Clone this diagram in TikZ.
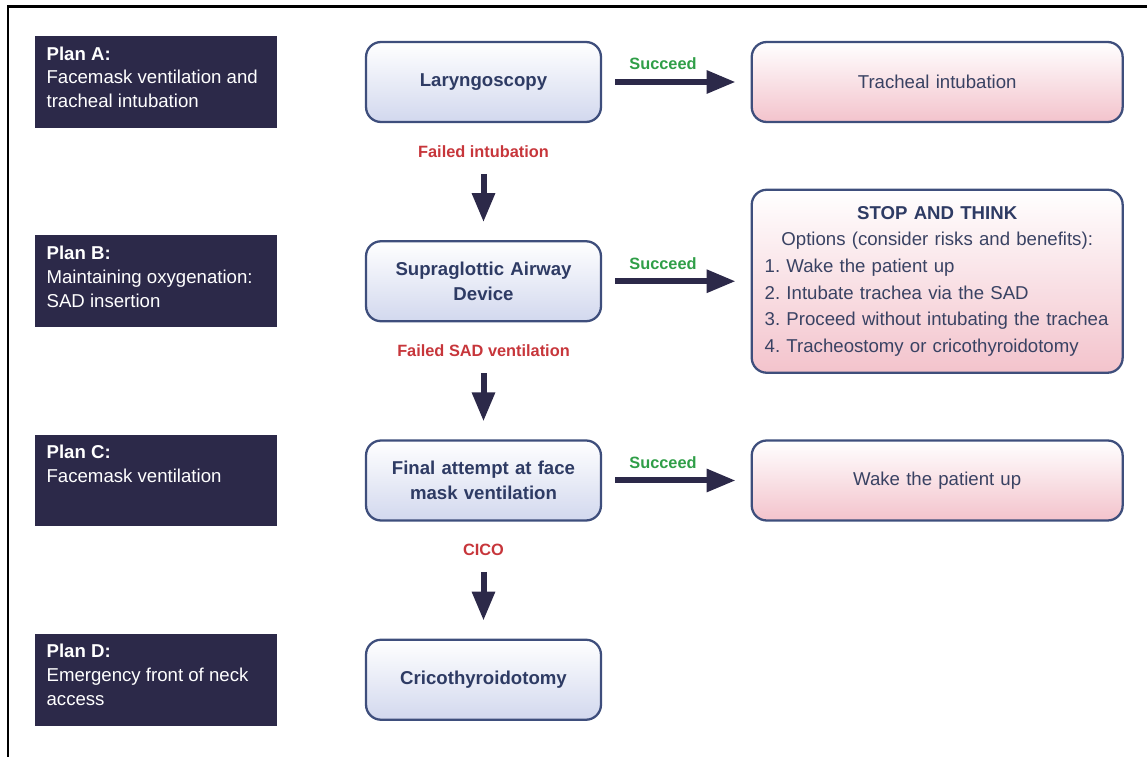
\documentclass[tikz,border=0pt]{standalone}
\usepackage{fontspec}
\setmainfont{Liberation Sans}
\usepackage{xcolor}
\usepackage{tikz}
\usetikzlibrary{arrows.meta, positioning, calc}

\definecolor{plannavy}{HTML}{2C2949}
\definecolor{boxedge}{HTML}{3E4E7C}
\definecolor{boxtext}{HTML}{2E3B64}
\definecolor{bluebottom}{HTML}{D2D8EE}
\definecolor{pinkbottom}{HTML}{F3C3CC}
\definecolor{okgreen}{HTML}{2F9E47}
\definecolor{failred}{HTML}{C7363B}
\definecolor{darktext}{HTML}{394263}

\newcommand{\planlabel}[2]{\parbox[c][1.42cm][t]{4.36cm}{\textbf{#1}\\#2}}
\newcommand{\optline}[1]{\makebox[6.9cm][l]{#1}}
\frenchspacing

\begin{document}
\begin{tikzpicture}[
  x=0.02cm, y=-0.02cm,
  every node/.style={font=\fontsize{10.6}{13.6}\selectfont},
  plan/.style={rectangle, fill=plannavy, text=white, minimum width=4.84cm, minimum height=1.84cm, inner sep=0pt},
  stepbox/.style={rectangle, draw=boxedge, line width=1.3pt, rounded corners=0.3cm, top color=white, bottom color=bluebottom, minimum width=4.7cm, minimum height=1.6cm, text width=4.3cm, align=center, text=boxtext, font=\fontsize{10.6}{14.2}\selectfont\bfseries},
  outcome/.style={rectangle, draw=boxedge, line width=1.3pt, rounded corners=0.3cm, top color=white, bottom color=pinkbottom, minimum width=7.42cm, minimum height=1.6cm, text width=6.9cm, align=center, text=darktext, font=\fontsize{10.6}{15.2}\selectfont},
  fail/.style={text=failred, inner sep=0pt, font=\fontsize{9.3}{11}\selectfont\bfseries},
  ok/.style={text=okgreen, inner sep=0pt, font=\fontsize{9.3}{11}\selectfont\bfseries},
  bigarrow/.style={draw=plannavy, line width=0.12cm, -{Triangle[length=0.58cm, width=0.44cm]}},
  node distance=2.34cm,
]
  \useasboundingbox (0,0) rectangle (1147,757);
  \draw[line width=1.7pt] (8,757) -- (8,6.5) -- (1147,6.5);

  \node[stepbox] (m1) at (483.5,82) {Laryngoscopy};
  \node[stepbox, below=of m1] (m2) {Supraglottic Airway\\Device};
  \node[stepbox, below=of m2] (m3) {Final attempt at face\\mask ventilation};
  \node[stepbox, below=of m3] (m4) {Cricothyroidotomy};

  \node[plan, left=1.76cm of m1] (p1) {\planlabel{Plan A:}{Facemask ventilation and\\tracheal intubation}};
  \node[plan, left=1.76cm of m2] (p2) {\planlabel{Plan B:}{Maintaining oxygenation:\\SAD insertion}};
  \node[plan, left=1.76cm of m3] (p3) {\planlabel{Plan C:}{Facemask ventilation}};
  \node[plan, left=1.76cm of m4] (p4) {\planlabel{Plan D:}{Emergency front of neck\\access}};

  \node[outcome, right=2.97cm of m1] (r1) {Tracheal intubation};
  \node[outcome, right=2.97cm of m2, minimum height=3.66cm] (r2) {\textbf{\color{boxtext}STOP AND THINK}\\Options (consider risks and benefits):\\\optline{1. Wake the patient up}\\\optline{2. Intubate trachea via the SAD}\\\optline{3. Proceed without intubating the trachea}\\\optline{4. Tracheostomy or cricothyroidotomy}};
  \node[outcome, right=2.97cm of m3] (r3) {Wake the patient up};

  \node[fail, below=0.44cm of m1] (f1) {Failed intubation};
  \node[fail, below=0.44cm of m2] (f2) {Failed SAD ventilation};
  \node[fail, below=0.44cm of m3] (f3) {CICO};

  \draw[bigarrow, shorten <=0.32cm, shorten >=0.36cm] (f1) -- (m2);
  \draw[bigarrow, shorten <=0.32cm, shorten >=0.36cm] (f2) -- (m3);
  \draw[bigarrow, shorten <=0.32cm, shorten >=0.36cm] (f3) -- (m4);

  \draw[bigarrow, shorten <=0.26cm, shorten >=0.3cm] (m1) -- (r1) node[ok, pos=0.41, above=0.18cm] {Succeed};
  \draw[bigarrow, shorten <=0.26cm, shorten >=0.3cm] (m2.east) -- (m2.east -| r2.west) node[ok, pos=0.41, above=0.18cm] {Succeed};
  \draw[bigarrow, shorten <=0.26cm, shorten >=0.3cm] (m3) -- (r3) node[ok, pos=0.41, above=0.18cm] {Succeed};
\end{tikzpicture}
\end{document}
